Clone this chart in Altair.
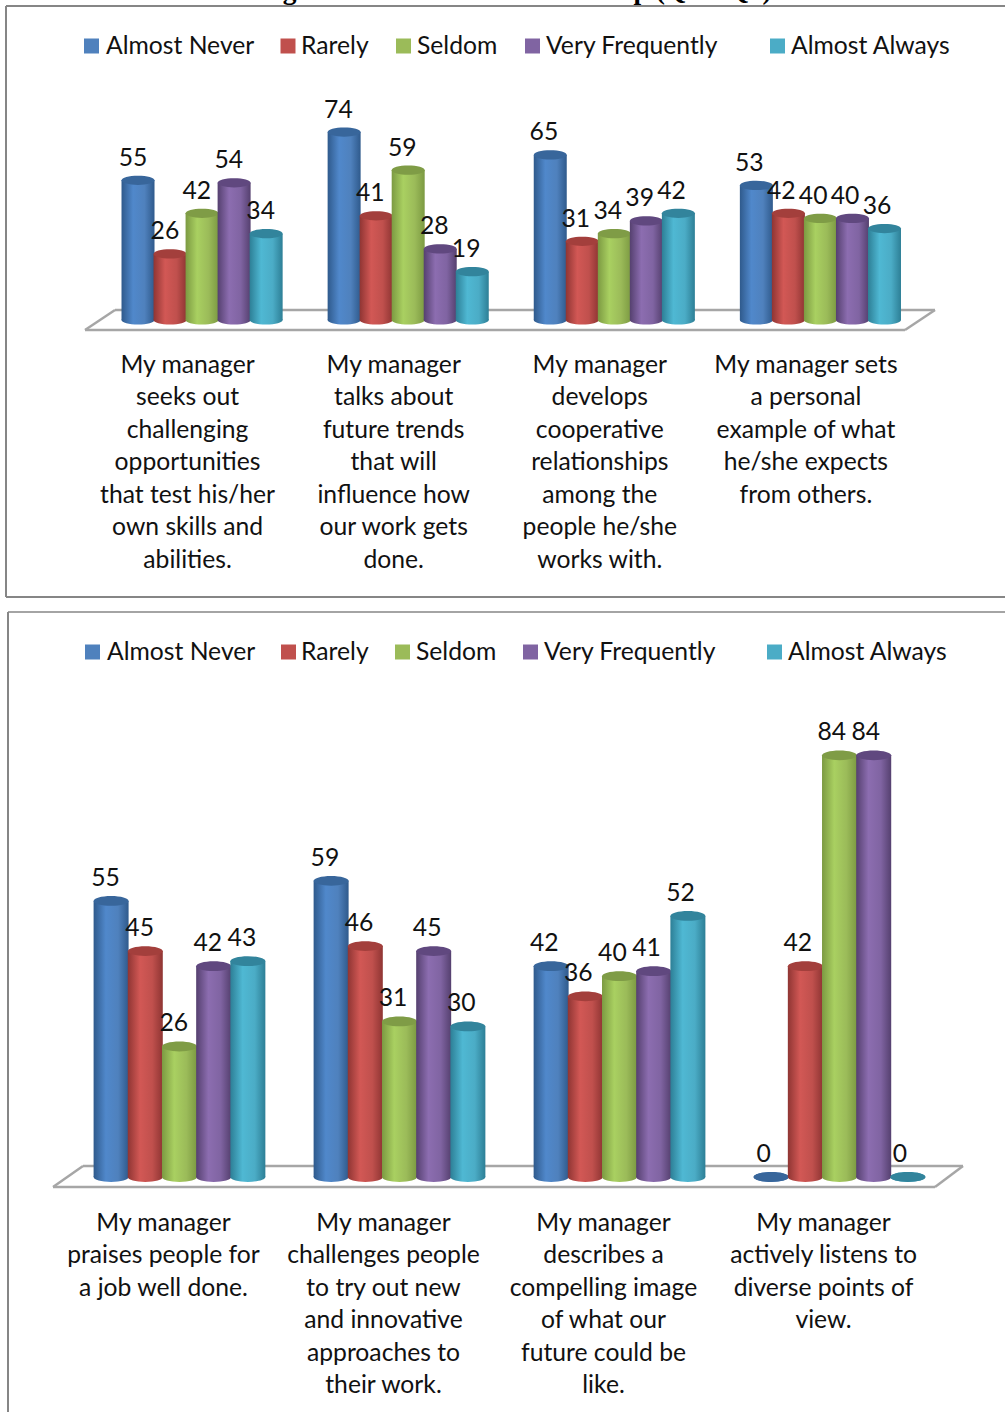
import altair as alt
import pandas as pd

series = ["Almost Never", "Rarely", "Seldom", "Very Frequently", "Almost Always"]

top_questions = [
    "My manager\nseeks out\nchallenging\nopportunities\nthat test his/her\nown skills and\nabilities.",
    "My manager\ntalks about\nfuture trends\nthat will\ninfluence how\nour work gets\ndone.",
    "My manager\ndevelops\ncooperative\nrelationships\namong the\npeople he/she\nworks with.",
    "My manager sets\na personal\nexample of what\nhe/she expects\nfrom others.",
]
top_values = {
    "Almost Never": [55, 74, 65, 53],
    "Rarely": [26, 41, 31, 42],
    "Seldom": [42, 59, 34, 40],
    "Very Frequently": [54, 28, 39, 40],
    "Almost Always": [34, 19, 42, 36],
}

bottom_questions = [
    "My manager\npraises people for\na job well done.",
    "My manager\nchallenges people\nto try out new\nand innovative\napproaches to\ntheir work.",
    "My manager\ndescribes a\ncompelling image\nof what our\nfuture could be\nlike.",
    "My manager\nactively listens to\ndiverse points of\nview.",
]
bottom_values = {
    "Almost Never": [55, 59, 42, 0],
    "Rarely": [45, 46, 36, 42],
    "Seldom": [26, 31, 40, 84],
    "Very Frequently": [42, 45, 41, 84],
    "Almost Always": [43, 30, 52, 0],
}

heading = "Figure 6: Practices of Leadership (Q1 – Q8)"

# edge, highlight, body and cap colour of each cylinder
palette = {
    "Almost Never": ("#2f5a8c", "#5088cb", "#4f81bd", "#38669b"),
    "Rarely": ("#8f3533", "#d25855", "#c0504d", "#a33f3c"),
    "Seldom": ("#7c9a42", "#a9d061", "#9bbb59", "#7f9c46"),
    "Very Frequently": ("#55406f", "#8c6db0", "#8064a2", "#60487f"),
    "Almost Always": ("#2d7f96", "#4fb8d3", "#4bacc6", "#32849c"),
}

FONT = "Lato"
FS = 24.7
INK = "#111111"
FRAME = "#868686"
ELLIPSE = "M-1,0 A1,0.28 0 1,1 1,0 A1,0.28 0 1,1 -1,0 Z"


def gradient(name):
    edge, hi, body, _ = palette[name]
    return alt.Gradient(
        gradient="linear", x1=0, x2=1, y1=0, y2=0,
        stops=[
            alt.GradientStop(offset=0, color=edge),
            alt.GradientStop(offset=0.35, color=hi),
            alt.GradientStop(offset=0.7, color=body),
            alt.GradientStop(offset=1, color=edge),
        ],
    )


def segment(x1, y1, x2, y2, width=2.5, color="#a6a6a6"):
    return alt.Chart(pd.DataFrame({"k": [0]})).mark_rule(
        color=color, strokeWidth=width
    ).encode(
        x=alt.value(x1), y=alt.value(y1), x2=alt.value(x2), y2=alt.value(y2)
    )


def legend(y, squares, texts):
    out = []
    for name, sx, tx in zip(series, squares, texts):
        row = pd.DataFrame({"s": [name]})
        out.append(
            alt.Chart(row).mark_square(size=225, filled=True, opacity=1, color=palette[name][2])
            .encode(x=alt.value(sx), y=alt.value(y))
        )
        out.append(
            alt.Chart(row).mark_text(font=FONT, fontSize=FS, align="left", baseline="middle", color=INK)
            .encode(x=alt.value(tx), y=alt.value(y + 1), text="s:N")
        )
    return out


def panel(questions, values, x_range, label_range, y_range, bar_width, label_dy, question_dx, question_y):
    rows = [
        {"q": q, "s": s, "v": values[s][i]}
        for s in series for i, q in enumerate(questions)
    ]
    df = pd.DataFrame(rows)
    inner = 0.223

    def band(rng):
        return alt.Scale(type="band", domain=questions, range=rng, paddingInner=inner, paddingOuter=0)

    off = alt.XOffset("s:N", scale=alt.Scale(type="band", domain=series, paddingInner=0, paddingOuter=0))
    y_scale = alt.Scale(domain=[0, 100], range=y_range, nice=False)
    enc_x = alt.X("q:N", scale=band(x_range), axis=None, sort=questions)
    enc_y = alt.Y("v:Q", scale=y_scale, axis=None)
    out = []
    for s in series:
        base = alt.Chart(df[df.s == s])
        out.append(
            base.mark_point(shape=ELLIPSE, size=bar_width ** 2, filled=True, opacity=1, strokeWidth=0,
                            fill=gradient(s))
            .encode(x=enc_x, xOffset=off, y=alt.Y(datum=0, scale=y_scale, axis=None))
        )
        out.append(
            base.mark_bar(fill=gradient(s), strokeWidth=0, width=bar_width)
            .encode(x=enc_x, xOffset=off, y=enc_y)
        )
        out.append(
            base.mark_point(shape=ELLIPSE, size=bar_width ** 2, filled=True, opacity=1, strokeWidth=0,
                            fill=palette[s][3])
            .encode(x=enc_x, xOffset=off, y=enc_y)
        )
    out.append(
        alt.Chart(df).mark_text(font=FONT, fontSize=FS, color=INK, dy=label_dy, baseline="middle")
        .encode(x=alt.X("q:N", scale=band(label_range), axis=None, sort=questions), xOffset=off, y=enc_y, text="v:Q")
    )
    out.append(
        alt.Chart(pd.DataFrame({"q": questions})).mark_text(
            font=FONT, fontSize=FS, color=INK, lineBreak="\n", lineHeight=32.45, baseline="top", dx=question_dx
        ).encode(x=alt.X("q:N", scale=band(x_range), axis=None, sort=questions), y=alt.value(question_y), text="q:N")
    )
    return out


layers = []
# frames around both panels
layers += [
    segment(6, 6, 1005, 6, 2, FRAME), segment(6, 6, 6, 597, 2, FRAME), segment(6, 597, 1005, 597, 2, FRAME),
    segment(8, 612, 1005, 612, 1.5, FRAME), segment(8, 612, 8, 1412, 2, FRAME),
]
# floors beneath the cylinders
layers += [
    segment(85, 330, 905, 330), segment(905, 330, 935, 310), segment(935, 310, 115, 310), segment(115, 310, 85, 330),
    segment(53, 1187, 935, 1187), segment(935, 1187, 963, 1166), segment(963, 1166, 83, 1166), segment(83, 1166, 53, 1187),
]
layers += legend(46, [91.5, 288, 403.5, 532.5, 777.5], [106, 301, 417, 546, 791])
layers += legend(652, [92.5, 288.5, 402.5, 530.5, 774.5], [107, 301, 416, 544, 788])
layers += panel(top_questions, top_values, [122, 900.5], [117, 893], [320, 66], 33, -21.5, -14.5, 353)
layers += panel(bottom_questions, bottom_values, [94, 925], [88.5, 917], [1177, 675], 35, -22, -16, 1211)
layers.append(
    alt.Chart(pd.DataFrame({"t": [heading]})).mark_text(
        font="Liberation Serif", fontWeight="bold", fontSize=27.5, align="center", baseline="alphabetic", color="#000000"
    ).encode(x=alt.value(515), y=alt.value(-1), text="t:N")
)

chart = alt.layer(*layers).resolve_scale(x="independent", y="independent", xOffset="independent").properties(
    width=1005, height=1412, padding=0, autosize=alt.AutoSizeParams(type="none"),
    background="white",
).configure_view(stroke=None)

chart.save("out.html", embed_options={"renderer": "svg", "actions": False})
